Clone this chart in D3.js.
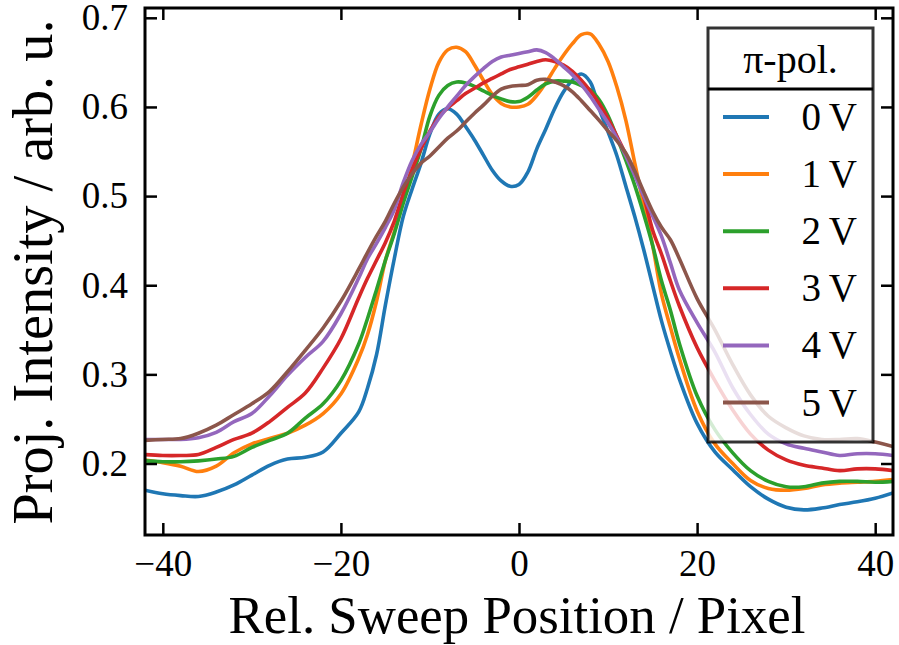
<!DOCTYPE html>
<html><head><meta charset="utf-8">
<script src="https://cdn.jsdelivr.net/npm/d3@7"></script>
<style>
body{margin:0;background:#fff;}
svg{display:block;}
text{font-family:"Liberation Serif","DejaVu Serif",serif;fill:#000;}
</style>
</head><body>
<svg id="c" width="899" height="645"></svg>
<script>
// ---- data ----
const xs = [-42,-40,-38,-36,-34,-32,-30,-28,-26,-24,-22,-20,
  -18,-17,-16,-15,-14,-13,-12,-11,-10,-9,-8,-7,-6,-5,-4,-3,-2,-1,0,1,2,3,4,5,6,7,8,9,10,11,12,13,14,15,16,17,18,
  20,22,24,26,28,30,32,34,36,38,40,42];

const v0 = [0.170,0.166,0.164,0.163,0.168,0.176,0.187,0.198,0.205,0.207,0.213,0.234,
  0.258,0.285,0.322,0.378,0.430,0.477,0.508,0.537,0.570,0.592,0.598,0.592,0.578,0.563,0.546,0.529,0.517,0.511,0.513,0.527,0.553,0.575,0.598,0.617,0.630,0.637,0.628,0.598,0.572,0.545,0.511,0.477,0.440,0.400,0.360,0.326,0.295,
  0.245,0.213,0.193,0.174,0.160,0.151,0.148,0.150,0.154,0.157,0.161,0.167];
const v1 = [0.204,0.201,0.197,0.191,0.197,0.212,0.222,0.228,0.234,0.243,0.256,0.278,
  0.318,0.345,0.382,0.428,0.460,0.495,0.535,0.580,0.620,0.650,0.664,0.667,0.662,0.647,0.630,0.614,0.604,0.600,0.600,0.603,0.613,0.627,0.643,0.658,0.671,0.681,0.682,0.670,0.651,0.622,0.585,0.537,0.490,0.445,0.390,0.353,0.318,
  0.259,0.222,0.200,0.181,0.172,0.170,0.172,0.176,0.178,0.179,0.180,0.182];
const v2 = [0.203,0.202,0.202,0.203,0.205,0.208,0.218,0.226,0.234,0.251,0.267,0.293,
  0.334,0.363,0.395,0.428,0.458,0.492,0.522,0.553,0.590,0.613,0.624,0.628,0.627,0.623,0.618,0.613,0.609,0.606,0.606,0.611,0.619,0.626,0.629,0.629,0.628,0.624,0.619,0.608,0.590,0.566,0.540,0.512,0.480,0.445,0.405,0.372,0.335,
  0.276,0.238,0.212,0.192,0.180,0.174,0.174,0.178,0.180,0.180,0.179,0.180];
const v3 = [0.210,0.209,0.209,0.210,0.218,0.227,0.234,0.247,0.263,0.279,0.307,0.340,
  0.386,0.408,0.428,0.448,0.472,0.503,0.530,0.553,0.573,0.589,0.599,0.607,0.615,0.621,0.627,0.632,0.637,0.642,0.645,0.648,0.651,0.653,0.651,0.647,0.640,0.630,0.618,0.604,0.587,0.567,0.547,0.527,0.500,0.462,0.435,0.405,0.377,
  0.330,0.293,0.260,0.233,0.215,0.204,0.198,0.195,0.192,0.194,0.194,0.192];
const v4 = [0.227,0.227,0.227,0.229,0.235,0.247,0.256,0.276,0.299,0.319,0.337,0.368,
  0.408,0.430,0.447,0.465,0.485,0.515,0.540,0.558,0.572,0.587,0.600,0.612,0.624,0.634,0.643,0.651,0.656,0.658,0.660,0.662,0.664,0.661,0.654,0.645,0.636,0.625,0.612,0.597,0.582,0.565,0.545,0.523,0.500,0.478,0.455,0.425,0.395,
  0.358,0.325,0.285,0.255,0.233,0.222,0.217,0.213,0.209,0.211,0.211,0.209];
const v5 = [0.226,0.227,0.228,0.234,0.243,0.255,0.267,0.281,0.303,0.327,0.352,0.382,
  0.418,0.437,0.455,0.472,0.492,0.510,0.525,0.537,0.545,0.555,0.565,0.573,0.583,0.593,0.602,0.612,0.620,0.623,0.624,0.625,0.630,0.631,0.628,0.624,0.617,0.607,0.596,0.585,0.573,0.562,0.548,0.528,0.505,0.483,0.465,0.451,0.430,
  0.385,0.350,0.311,0.277,0.253,0.240,0.231,0.227,0.227,0.228,0.224,0.219];

const seriesValues = [v0, v1, v2, v3, v4, v5];
const seriesLabels = ["0\u2009V", "1\u2009V", "2\u2009V", "3\u2009V", "4\u2009V", "5\u2009V"];
const legendTitle = "\u03C0-pol.";
const colors = ["#1f77b4", "#ff7f0e", "#2ca02c", "#d62728", "#9467bd", "#8c564b"];
const xTicks = [-40, -20, 0, 20, 40];
const yTicks = [0.2, 0.3, 0.4, 0.5, 0.6, 0.7];
const xTitle = "Rel. Sweep Position / Pixel";
const yTitle = "Proj. Intensity / arb. u.";

// ---- layout ----
const FONT = '"Liberation Serif","DejaVu Serif",serif';
const L = 145, R = 893, T = 8, B = 535;
const svg = d3.select("#c");
const x = d3.scaleLinear().domain([-42, 42]).range([L, R]);
const y = d3.scaleLinear().domain([0.1198, 0.711]).range([B, T]);

svg.append("defs").append("clipPath").attr("id", "clip")
  .append("rect").attr("x", L).attr("y", T).attr("width", R - L).attr("height", B - T);

const line = d3.line()
  .x((d, i) => x(xs[i]))
  .y(d => y(d))
  .curve(d3.curveCatmullRom.alpha(0.5));

const plot = svg.append("g").attr("clip-path", "url(#clip)");
seriesValues.forEach((vals, k) => {
  plot.append("path").datum(vals)
    .attr("d", line)
    .attr("fill", "none")
    .attr("stroke", colors[k])
    .attr("stroke-width", 3.6)
    .attr("stroke-linejoin", "round")
    .attr("stroke-linecap", "round");
});

function styleAxis(g, fs) {
  g.attr("font-family", FONT);
  g.select(".domain").remove();
  g.selectAll(".tick line").attr("stroke", "#000").attr("stroke-width", 2.5);
  g.selectAll(".tick text").attr("font-family", FONT)
    .attr("font-size", fs).attr("fill", "#000");
}

const fmtX = d3.format("d");
const fmtY = d3.format(".1f");
svg.append("g").attr("transform", `translate(0,${B})`)
  .call(d3.axisBottom(x).tickValues(xTicks).tickSize(-12).tickPadding(15).tickFormat(fmtX))
  .call(g => styleAxis(g, 37));
svg.append("g").attr("transform", `translate(0,${T})`)
  .call(d3.axisTop(x).tickValues(xTicks).tickSize(-12).tickFormat(""))
  .call(g => styleAxis(g, 37));
svg.append("g").attr("transform", `translate(${L},0)`)
  .call(d3.axisLeft(y).tickValues(yTicks).tickSize(-12).tickPadding(17).tickFormat(fmtY))
  .call(g => styleAxis(g, 37));
svg.append("g").attr("transform", `translate(${R},0)`)
  .call(d3.axisRight(y).tickValues(yTicks).tickSize(-12).tickFormat(""))
  .call(g => styleAxis(g, 37));

svg.append("rect").attr("x", L).attr("y", T).attr("width", R - L).attr("height", B - T)
  .attr("fill", "none").attr("stroke", "#000").attr("stroke-width", 3);

function fit(t, target) {
  const base = 50;
  t.attr("font-size", base);
  const len = t.node().getComputedTextLength();
  t.attr("font-size", base * target / len);
}

const xt = svg.append("text").attr("x", 517).attr("y", 633).attr("text-anchor", "middle")
  .attr("font-family", FONT).text(xTitle);
fit(xt, 577);
const yt = svg.append("text").attr("transform", "translate(52,272) rotate(-90)")
  .attr("text-anchor", "middle").attr("font-family", FONT).text(yTitle);
fit(yt, 505);

// ---- legend ----
const lg = svg.append("g").attr("font-family", FONT);
lg.append("rect").attr("x", 708).attr("y", 28).attr("width", 165).attr("height", 414)
  .attr("fill", "#fff").attr("fill-opacity", 0.8)
  .attr("stroke", "#000").attr("stroke-opacity", 0.8).attr("stroke-width", 3);
lg.append("line").attr("x1", 708).attr("x2", 873).attr("y1", 89).attr("y2", 89)
  .attr("stroke", "#000").attr("stroke-width", 3);
lg.append("text").attr("x", 790.5).attr("y", 73).attr("text-anchor", "middle")
  .attr("font-size", 40).text(legendTitle);
seriesLabels.forEach((lab, k) => {
  const yy = 117 + k * 57.1;
  lg.append("line").attr("x1", 723).attr("x2", 769).attr("y1", yy).attr("y2", yy)
    .attr("stroke", colors[k]).attr("stroke-width", 4);
  lg.append("text").attr("x", 857).attr("y", yy + 13).attr("text-anchor", "end")
    .attr("font-size", 39).text(lab);
});
</script>
</body></html>
